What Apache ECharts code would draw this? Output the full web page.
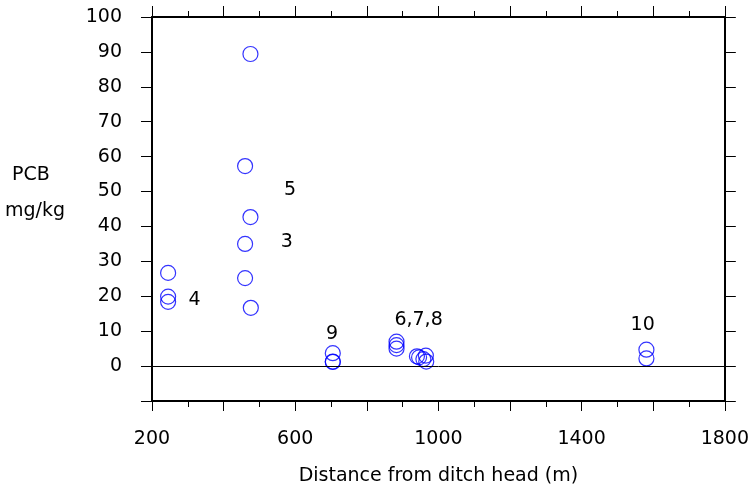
<!DOCTYPE html>
<html><head><meta charset="utf-8">
<script src="https://cdn.jsdelivr.net/npm/echarts@6/dist/echarts.min.js"></script>
<style>html,body{margin:0;padding:0;background:#fff}#c{width:752px;height:495px}</style>
</head><body><div id="c"></div>
<script>
// Data: distance from ditch head (m) and PCB (mg/kg)
const distance = [475, 460, 475, 460, 460, 476, 245, 245, 245, 705, 705, 705, 883, 883, 883, 940, 946, 958, 965, 966, 1581, 1581];
const pcb      = [89.4, 57.3, 42.7, 35.0, 25.2, 16.7, 26.7, 19.9, 18.4, 3.7, 1.3, 1.2, 7.0, 6.0, 5.0, 2.8, 2.5, 2.0, 3.0, 1.3, 4.7, 2.2];
// Site labels and their positions in data units
const siteLabels = ['5', '3', '4', '9', '6,7,8', '10'];
const siteLabelX = [587, 578, 320, 704, 946, 1572];
const siteLabelY = [50.4, 35.5, 18.9, 8.9, 12.9, 11.7];
const xTickLabels = [200, 600, 1000, 1400, 1800];
const yTickLabels = [0, 10, 20, 30, 40, 50, 60, 70, 80, 90, 100];

const FONT = '"DejaVu Sans", sans-serif';
const FS = 19;
const chart = echarts.init(document.getElementById('c'));
const axisLine = {show: true, onZero: false, lineStyle: {color: '#000', width: 2}};
const xCommon = {
  type: 'value', min: 200, max: 1800, interval: 200,
  axisLine: axisLine, splitLine: {show: false},
  axisTick: {show: true, inside: false, length: 10, lineStyle: {color: '#000', width: 1}},
  minorTick: {show: true, splitNumber: 2, length: 6, lineStyle: {color: '#000', width: 1}}
};
const yCommon = {
  type: 'value', min: -10, max: 100, interval: 10,
  axisLine: axisLine, splitLine: {show: false},
  axisTick: {show: true, inside: false, length: 11, lineStyle: {color: '#000', width: 1}}
};
chart.setOption({
  animation: false,
  backgroundColor: '#fff',
  grid: {left: 152, top: 17, width: 575, height: 384, containLabel: false},
  xAxis: [
    Object.assign({}, xCommon, {
      position: 'bottom',
      name: 'Distance from ditch head (m)', nameLocation: 'middle', nameGap: 66,
      nameTextStyle: {fontFamily: FONT, fontSize: FS, color: '#000'},
      axisLabel: {show: true, margin: 29, fontFamily: FONT, fontSize: FS, color: '#000',
        formatter: v => xTickLabels.indexOf(v) >= 0 ? String(v) : ''}
    }),
    Object.assign({}, xCommon, {position: 'top', axisTick: Object.assign({}, xCommon.axisTick, {length: 11}), axisLabel: {show: false}})
  ],
  yAxis: [
    Object.assign({}, yCommon, {
      position: 'left',
      axisLabel: {show: true, margin: 30, fontFamily: FONT, fontSize: FS, color: '#000',
        formatter: v => yTickLabels.indexOf(v) >= 0 ? String(v) : ''}
    }),
    Object.assign({}, yCommon, {position: 'right', axisLabel: {show: false}})
  ],
  graphic: [
    {type: 'text', left: 12, top: 166, style: {text: 'PCB', font: FS + 'px ' + FONT, fill: '#000'}},
    {type: 'text', left: 5, top: 202, style: {text: 'mg/kg', font: FS + 'px ' + FONT, fill: '#000'}}
  ],
  series: [
    {
      type: 'scatter', xAxisIndex: 0, yAxisIndex: 0,
      symbol: 'circle', symbolSize: 15,
      itemStyle: {color: 'rgba(0,0,0,0)', borderColor: '#0000ff', borderWidth: 1.2},
      data: distance.map((d, i) => [d, pcb[i]]),
      markLine: {
        silent: true, symbol: 'none', label: {show: false},
        lineStyle: {color: '#000', width: 1, type: 'solid'},
        data: [{yAxis: 0}]
      },
      z: 3
    },
    {
      type: 'scatter', xAxisIndex: 0, yAxisIndex: 0,
      symbol: 'circle', symbolSize: 1, silent: true,
      itemStyle: {color: 'rgba(0,0,0,0)', opacity: 1},
      label: {show: true, position: [0, 0], align: 'center', verticalAlign: 'middle',
        fontFamily: FONT, fontSize: FS, color: '#000', textBorderWidth: 0,
        formatter: p => siteLabels[p.dataIndex]},
      data: siteLabelX.map((x, i) => [x, siteLabelY[i]]),
      z: 4
    }
  ]
});
</script></body></html>
